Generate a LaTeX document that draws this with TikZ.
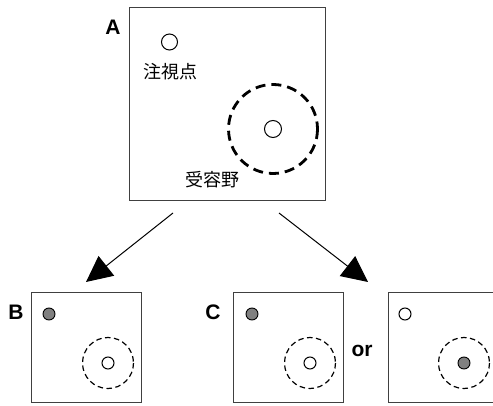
\documentclass[tikz,border=0pt]{standalone}
\usepackage{fontspec}
\setmainfont{Liberation Sans}
\newfontfamily\cjk{Noto Sans CJK JP}
\usetikzlibrary{arrows.meta}
\begin{document}
\begin{tikzpicture}[x=1pt,y=-1pt,
  frame/.style={draw=black!75,line width=1pt},
  panel/.style={font=\bfseries\fontsize{21}{21}\selectfont,anchor=center},
  jp/.style={font=\cjk\fontsize{18}{18}\selectfont,anchor=center},
  spot/.style={draw=black,line width=1pt,fill=white},
  hit/.style={draw=black,line width=0.9pt,fill=black!50},
  bigfield/.style={draw=black,line width=2.8pt,dash pattern=on 10pt off 6pt},
  field/.style={draw=black,line width=1.2pt,dash pattern=on 5.5pt off 3.5pt},
  link/.style={draw=black,line width=1pt,-{Triangle[length=26pt,width=25pt]}}]
\clip (0,0) rectangle (493,406);
\fill[white] (0,0) rectangle (493,406);

% panel A: fixation point and receptive field
\draw[frame] (129.5,7.5) rectangle (325,201);
\node[panel] (la) at (113,27) {A};
\draw[spot] (169.5,42) circle (8);
\node[jp] (fix) at (170,72) {注視点};
\draw[bigfield] (273,129) circle (44.5);
\draw[spot] (273,129) circle (8.5);
\node[jp] (rf) at (212,180) {受容野};

% arrows towards the two outcomes
\coordinate (srcL) at (173,213);
\coordinate (dstL) at (86,282);
\coordinate (srcR) at (279,213);
\coordinate (dstR) at (368,282);
\draw[link] (srcL) -- (dstL);
\draw[link] (srcR) -- (dstR);

% panel B
\draw[frame] (31,293) rectangle (141,402);
\node[panel] (lb) at (16,312) {B};
\draw[hit] (49,314) circle (6);
\draw[field] (108,363) circle (25.5);
\draw[spot] (108,363) circle (6);

% panel C
\draw[frame] (233,293) rectangle (343,402);
\node[panel] (lc) at (213,312) {C};
\draw[hit] (252,314) circle (6);
\draw[field] (310,363) circle (25.5);
\draw[spot] (310,363) circle (6);

\node[panel] (or) at (362,351) {or};

% alternative outcome
\draw[frame] (388,293) rectangle (498,402);
\draw[spot] (405,314) circle (6);
\draw[field] (464,363) circle (25.5);
\draw[hit] (464,363) circle (6);
\end{tikzpicture}
\end{document}
